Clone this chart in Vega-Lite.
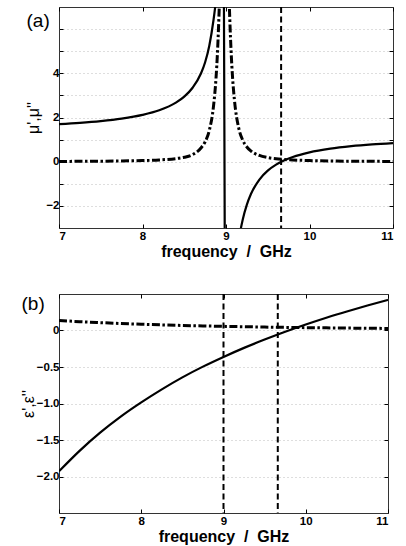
{
  "$schema": "https://vega.github.io/schema/vega-lite/v6.json",
  "background": "white",
  "padding": {"left": 19, "top": 5, "right": 8, "bottom": 5},
  "spacing": 32,
  "config": {
    "view": {"stroke": "#333", "strokeWidth": 1},
    "font": "Liberation Sans",
    "axis": {
      "labelFont": "Liberation Sans",
      "labelFontSize": 11.5,
      "labelFontWeight": "bold",
      "labelColor": "#000",
      "tickColor": "#000",
      "tickSize": -4,
      "domain": false,
      "gridColor": "#bdbdbd",
      "gridDash": [1, 3],
      "titleFont": "Liberation Sans",
      "titleColor": "#000"
    }
  },
  "datasets": {
    "mu": [
      {"f": 7, "re": 1.699, "im": 0.0125},
      {"f": 7.25, "re": 1.759, "im": 0.0164},
      {"f": 7.5, "re": 1.839, "im": 0.0224},
      {"f": 7.75, "re": 1.95, "im": 0.0324},
      {"f": 8, "re": 2.118, "im": 0.0506},
      {"f": 8.2, "re": 2.327, "im": 0.079},
      {"f": 8.4, "re": 2.672, "im": 0.14},
      {"f": 8.5, "re": 2.945, "im": 0.201},
      {"f": 8.6, "re": 3.347, "im": 0.32},
      {"f": 8.7, "re": 3.99, "im": 0.622},
      {"f": 8.75, "re": 4.5, "im": 0.901},
      {"f": 8.8, "re": 5.25, "im": 1.416},
      {"f": 8.85, "re": 6.4, "im": 2.5},
      {"f": 8.88, "re": 7.3, "im": 3.756},
      {"f": 8.9, "re": 8.0, "im": 5.11},
      {"f": 8.92, "re": 8.4, "im": 7.098},
      {"f": 8.94, "re": 8.5, "im": 9.825},
      {"f": 8.96, "re": 8.2, "im": 12.76},
      {"f": 8.975, "re": 7.4, "im": 13.9},
      {"f": 8.985, "re": -3.4, "im": 14.1},
      {"f": 9.0, "re": -5.4, "im": 12.71},
      {"f": 9.02, "re": -5.8, "im": 9.765},
      {"f": 9.04, "re": -5.8, "im": 7.05},
      {"f": 9.06, "re": -5.6, "im": 5.077},
      {"f": 9.08, "re": -5.3, "im": 3.734},
      {"f": 9.1, "re": -4.9, "im": 2.83},
      {"f": 9.15, "re": -3.6, "im": 1.562},
      {"f": 9.2, "re": -2.622, "im": 0.977},
      {"f": 9.25, "re": -1.94, "im": 0.665},
      {"f": 9.3, "re": -1.451, "im": 0.48},
      {"f": 9.4, "re": -0.807, "im": 0.282},
      {"f": 9.5, "re": -0.405, "im": 0.186},
      {"f": 9.6, "re": -0.133, "im": 0.131},
      {"f": 9.7, "re": 0.064, "im": 0.1},
      {"f": 9.8, "re": 0.212, "im": 0.077},
      {"f": 10, "re": 0.421, "im": 0.0506},
      {"f": 10.25, "re": 0.589, "im": 0.0324},
      {"f": 10.5, "re": 0.701, "im": 0.0225},
      {"f": 10.75, "re": 0.781, "im": 0.0165},
      {"f": 11, "re": 0.84, "im": 0.0126}
    ],
    "eps": [
      {"f": 7, "re": -1.929, "im": 0.137},
      {"f": 7.25, "re": -1.649, "im": 0.121},
      {"f": 7.5, "re": -1.4, "im": 0.108},
      {"f": 7.75, "re": -1.18, "im": 0.096},
      {"f": 8, "re": -0.985, "im": 0.086},
      {"f": 8.25, "re": -0.806, "im": 0.077},
      {"f": 8.5, "re": -0.642, "im": 0.069},
      {"f": 8.75, "re": -0.495, "im": 0.063},
      {"f": 9, "re": -0.362, "im": 0.057},
      {"f": 9.25, "re": -0.238, "im": 0.052},
      {"f": 9.5, "re": -0.124, "im": 0.047},
      {"f": 9.75, "re": -0.017, "im": 0.043},
      {"f": 10, "re": 0.082, "im": 0.039},
      {"f": 10.25, "re": 0.175, "im": 0.036},
      {"f": 10.5, "re": 0.261, "im": 0.033},
      {"f": 10.75, "re": 0.342, "im": 0.031},
      {"f": 11, "re": 0.42, "im": 0.028}
    ],
    "markA": [{"f": 9.66}],
    "markB": [{"f": 9.0}, {"f": 9.66}]
  },
  "vconcat": [
    {
      "width": 334,
      "height": 221,
      "resolve": {"axis": {"x": "independent", "y": "independent"}},
      "layer": [
        {
          "data": {"name": "mu"},
          "mark": {"type": "line", "color": "#000", "strokeWidth": 2.2, "clip": true, "interpolate": "monotone"},
          "encoding": {
            "x": {"field": "f", "type": "quantitative", "scale": {"domain": [7, 11], "nice": false, "zero": false},
              "axis": {"values": [7, 8, 9, 10, 11], "grid": false, "title": "frequency\u00a0\u00a0/\u00a0\u00a0GHz", "titleFontSize": 16, "titleFontWeight": "bold", "labelPadding": 6, "titlePadding": 2}},
            "y": {"field": "re", "type": "quantitative", "scale": {"domain": [-3, 7], "nice": false, "zero": false},
              "axis": {"values": [-2, -1, 0, 1, 2, 3, 4, 5, 6], "grid": true, "labelExpr": "(datum.value % 2 === 0 && datum.value < 6) ? datum.label : ''", "title": "μ',μ''", "titleFontSize": 16, "titleFontWeight": "normal", "titlePadding": 4, "labelPadding": 4}}
          }
        },
        {
          "data": {"name": "mu"},
          "mark": {"type": "line", "color": "#000", "strokeWidth": 3, "strokeDash": [8, 2.5, 2.5, 2.5], "clip": true, "interpolate": "monotone"},
          "encoding": {
            "x": {"field": "f", "type": "quantitative", "scale": {"domain": [7, 11], "nice": false, "zero": false},
              "axis": {"orient": "top", "values": [7, 8, 9, 10, 11], "labels": false, "grid": false, "title": null}},
            "y": {"field": "im", "type": "quantitative", "scale": {"domain": [-3, 7], "nice": false, "zero": false},
              "axis": {"orient": "right", "values": [-2, -1, 0, 1, 2, 3, 4, 5, 6], "labels": false, "grid": false, "title": null}}
          }
        },
        {
          "data": {"name": "markA"},
          "mark": {"type": "rule", "color": "#000", "strokeWidth": 2, "strokeDash": [6, 3.5]},
          "encoding": {
            "x": {"field": "f", "type": "quantitative", "scale": {"domain": [7, 11], "nice": false, "zero": false}, "axis": null}
          }
        },
        {
          "data": {"values": [{"label": "(a)"}]},
          "mark": {"type": "text", "fontSize": 19, "font": "Liberation Sans", "color": "#000", "align": "center", "baseline": "middle", "clip": false},
          "encoding": {
            "text": {"field": "label"},
            "x": {"datum": 6.75, "type": "quantitative", "scale": {"domain": [7, 11], "nice": false, "zero": false}, "axis": null},
            "y": {"datum": 6.37, "type": "quantitative", "scale": {"domain": [-3, 7], "nice": false, "zero": false}, "axis": null}
          }
        }
      ]
    },
    {
      "width": 329,
      "height": 219,
      "resolve": {"axis": {"x": "independent", "y": "independent"}},
      "layer": [
        {
          "data": {"name": "eps"},
          "mark": {"type": "line", "color": "#000", "strokeWidth": 2.2, "clip": true, "interpolate": "monotone"},
          "encoding": {
            "x": {"field": "f", "type": "quantitative", "scale": {"domain": [7, 11], "nice": false, "zero": false},
              "axis": {"values": [7, 8, 9, 10, 11], "grid": false, "title": "frequency\u00a0\u00a0/\u00a0\u00a0GHz", "titleFontSize": 16, "titleFontWeight": "bold", "labelPadding": 6, "titlePadding": 2}},
            "y": {"field": "re", "type": "quantitative", "scale": {"domain": [-2.5, 0.5], "nice": false, "zero": false},
              "axis": {"values": [0, -0.5, -1, -1.5, -2], "grid": true, "labelExpr": "datum.value === 0 ? '0' : format(datum.value, '.1f')", "title": "ε',ε''", "titleFontSize": 16, "titleFontWeight": "normal", "titlePadding": 0, "labelPadding": 4}}
          }
        },
        {
          "data": {"name": "eps"},
          "mark": {"type": "line", "color": "#000", "strokeWidth": 3, "strokeDash": [8, 2.5, 2.5, 2.5], "clip": true, "interpolate": "monotone"},
          "encoding": {
            "x": {"field": "f", "type": "quantitative", "scale": {"domain": [7, 11], "nice": false, "zero": false},
              "axis": {"orient": "top", "values": [7, 8, 9, 10, 11], "labels": false, "grid": false, "title": null}},
            "y": {"field": "im", "type": "quantitative", "scale": {"domain": [-2.5, 0.5], "nice": false, "zero": false},
              "axis": {"orient": "right", "values": [0, -0.5, -1, -1.5, -2], "labels": false, "grid": false, "title": null}}
          }
        },
        {
          "data": {"name": "markB"},
          "mark": {"type": "rule", "color": "#000", "strokeWidth": 2, "strokeDash": [6, 3.5]},
          "encoding": {
            "x": {"field": "f", "type": "quantitative", "scale": {"domain": [7, 11], "nice": false, "zero": false}, "axis": null}
          }
        },
        {
          "data": {"values": [{"label": "(b)"}]},
          "mark": {"type": "text", "fontSize": 19, "font": "Liberation Sans", "color": "#000", "align": "center", "baseline": "middle", "clip": false},
          "encoding": {
            "text": {"field": "label"},
            "x": {"datum": 6.685, "type": "quantitative", "scale": {"domain": [7, 11], "nice": false, "zero": false}, "axis": null},
            "y": {"datum": 0.358, "type": "quantitative", "scale": {"domain": [-2.5, 0.5], "nice": false, "zero": false}, "axis": null}
          }
        }
      ]
    }
  ]
}
